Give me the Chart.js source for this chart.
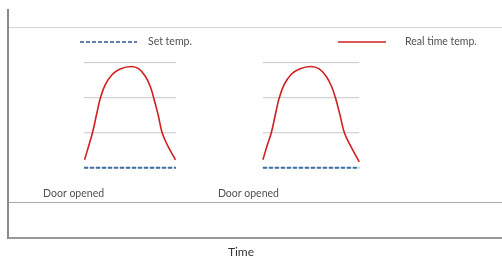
<!DOCTYPE html>
<html lang="en">
<head>
    <meta charset="UTF-8">
    <title>Door opened - temperature</title>
    <script src="https://cdn.jsdelivr.net/npm/chart.js@4.4.1/dist/chart.umd.min.js"></script>
    <style>
        html, body { margin: 0; padding: 0; background: #fff; }
        #wrap { position: relative; width: 502px; height: 258px; }
    </style>
</head>
<body>
    <div id="wrap"><canvas id="tempChart"></canvas></div>

    <script>
        // time in arbitrary units (0..100), temperature in grid steps (0..6.5)
        const eventLabels = ['Door opened', 'Door opened'];
        const eventLabelTime = [7.1, 42.5];
        const eventStart = [15.4, 51.6];
        const eventEnd = [34.0, 71.1];
        const setTemp = 2;
        const bandLevels = [2, 3, 4, 5];

        const pulse1Time = [15.5, 16.3, 17.1, 18.0, 18.7, 19.7, 21.1, 22.7, 25.0, 26.5, 27.8, 28.8, 29.5, 30.4, 31.2, 32.4, 33.9];
        const pulse1Temp = [2.23, 2.61, 3.0, 3.57, 3.99, 4.37, 4.66, 4.82, 4.89, 4.82, 4.61, 4.32, 3.99, 3.51, 3.0, 2.61, 2.23];
        const pulse2Time = [51.6, 52.4, 53.3, 54.2, 54.9, 55.9, 57.3, 59.0, 61.3, 63.0, 64.4, 65.5, 66.3, 67.2, 68.1, 69.4, 71.1];
        const pulse2Temp = [2.23, 2.61, 3.0, 3.57, 3.99, 4.37, 4.66, 4.82, 4.89, 4.82, 4.61, 4.32, 3.99, 3.51, 3.0, 2.61, 2.17];

        const legendLabels = ['Set temp.', 'Real time temp.'];
        const axisTitle = 'Time';

        const RED = '#d01f1f';
        const BLUE = '#3a6ea5';
        const FONT = '10.5px Lato, "Open Sans", sans-serif';

        function segments(level) {
            const pts = [];
            eventStart.forEach((s, i) => {
                pts.push({ x: s, y: level }, { x: eventEnd[i], y: level }, { x: eventEnd[i], y: null });
            });
            return pts;
        }

        function pulse(times, temps) {
            return times.map((t, i) => ({ x: t, y: temps[i] }));
        }

        const datasets = bandLevels.map(level => ({
            data: segments(level),
            borderColor: '#c8c8c8',
            borderWidth: 1,
            pointRadius: 0,
            spanGaps: false,
            order: 3
        }));
        datasets.push({
            label: legendLabels[0],
            data: segments(setTemp),
            borderColor: BLUE,
            borderWidth: 2,
            borderDash: [4, 2],
            pointRadius: 0,
            spanGaps: false,
            order: 2
        });
        datasets.push({
            label: legendLabels[1],
            data: pulse(pulse1Time, pulse1Temp).concat([{ x: 40, y: null }], pulse(pulse2Time, pulse2Temp)),
            borderColor: RED,
            borderWidth: 1.6,
            pointRadius: 0,
            tension: 0.4,
            spanGaps: false,
            order: 1
        });

        // legend, "Door opened" notes and axis title
        const notes = {
            id: 'notes',
            afterDraw(chart) {
                const ctx = chart.ctx;
                const xs = chart.scales.x, ys = chart.scales.y;
                ctx.save();
                ctx.font = FONT;
                ctx.fillStyle = '#505050';
                ctx.textBaseline = 'middle';
                ctx.textAlign = 'left';
                eventLabels.forEach((txt, i) => {
                    ctx.fillText(txt, xs.getPixelForValue(eventLabelTime[i]), ys.getPixelForValue(1.26));
                });

                // legend
                ctx.lineWidth = 1.5;
                ctx.strokeStyle = '#2f5597';
                ctx.setLineDash([4, 2]);
                ctx.beginPath(); ctx.moveTo(80, 42); ctx.lineTo(137, 42); ctx.stroke();
                ctx.setLineDash([]);
                ctx.strokeStyle = RED;
                ctx.beginPath(); ctx.moveTo(338, 42); ctx.lineTo(386, 42); ctx.stroke();
                ctx.fillText(legendLabels[0], 148, 42);
                ctx.fillText(legendLabels[1], 405, 42);

                ctx.font = '12px Lato, "Open Sans", sans-serif';
                ctx.fillStyle = '#333';
                ctx.textAlign = 'center';
                ctx.fillText(axisTitle, 241, 252);
                ctx.restore();
            }
        };

        new Chart(document.getElementById('tempChart'), {
            type: 'line',
            data: { datasets: datasets },
            options: {
                responsive: true,
                maintainAspectRatio: false,
                animation: false,
                layout: { padding: { left: 8, top: 10, right: 0, bottom: 20 } },
                scales: {
                    x: {
                        type: 'linear',
                        min: 0,
                        max: 100,
                        grid: { display: false, drawTicks: false },
                        ticks: { display: false },
                        border: { color: '#9a9a9a', width: 2 }
                    },
                    y: {
                        min: 0,
                        max: 6.5,
                        ticks: { display: false, stepSize: 1 },
                        border: { color: '#8a8a8a', width: 2 },
                        grid: {
                            drawTicks: false,
                            color: c => c.tick.value === 1 ? '#ababab' : (c.tick.value === 6 ? '#d4d4d4' : 'rgba(0,0,0,0)')
                        }
                    }
                },
                plugins: {
                    legend: { display: false },
                    tooltip: { enabled: false }
                }
            },
            plugins: [notes]
        });
    </script>
</body>
</html>
